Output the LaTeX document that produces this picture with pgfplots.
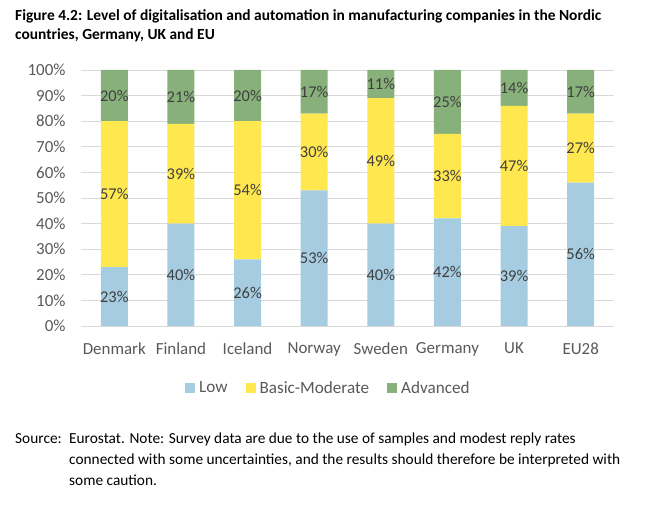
\documentclass[border=0pt]{standalone}
\usepackage{pgfplots}
\pgfplotsset{compat=1.18}
\usepackage{pgfplotstable}
\usepackage{fontspec}
\setmainfont{Carlito}
\definecolor{cLow}{HTML}{A6CCE2}
\definecolor{cBas}{HTML}{FFE74F}
\definecolor{cAdv}{HTML}{88B07A}
\definecolor{txt}{HTML}{404040}
\definecolor{tickc}{HTML}{595959}
\definecolor{gridc}{HTML}{D9D9D9}

\pgfplotstableread{
x low basic adv
0 23 57 20
1 40 39 21
2 26 54 20
3 53 30 17
4 40 49 11
5 42 33 25
6 39 47 14
7 56 27 17
}\data

\begin{document}
\begin{tikzpicture}
\useasboundingbox (0,0) rectangle (666bp,508bp);
\pgfplotsset{base/.style={
  at={(81bp,182bp)}, anchor=south west, scale only axis,
  width=533bp, height=256bp,
  xmin=-0.5, xmax=7.5, ymin=0, ymax=100, clip=false,
}}
\begin{axis}[base, ybar stacked, bar width=27bp,
  axis line style={draw=none},
  ymajorgrids, grid style={gridc, line width=0.8bp},
  ytick={0,10,...,100},
  yticklabel={\pgfmathprintnumber{\tick}\%},
  xtick={0,...,7},
  xticklabels={Denmark,Finland,Iceland,Norway,Sweden,Germany,UK,EU28},
  major tick length=0pt,
  /pgf/number format/assume math mode=true,
  tick label style={font=\fontsize{17}{20}\selectfont, text=tickc},
  yticklabel style={xshift=-12bp},
  xticklabel style={yshift=-13bp},
  legend columns=3,
  legend style={at={(0.466,-0.242)}, anchor=center, draw=none,
    font=\fontsize{17.2}{20}\selectfont, text=tickc,
    nodes={inner xsep=4bp},
    /tikz/every even column/.append style={column sep=14bp}},
]
\addplot[fill=cLow, draw=none, legend image code/.code={\fill[cLow] (0bp,-5bp) rectangle (10bp,5bp);}] table[x=x, y=low]{\data};
\addplot[fill=cBas, draw=none, legend image code/.code={\fill[cBas] (0bp,-5bp) rectangle (10bp,5bp);}] table[x=x, y=basic]{\data};
\addplot[fill=cAdv, draw=none, legend image code/.code={\fill[cAdv] (0bp,-5bp) rectangle (10bp,5bp);}] table[x=x, y=adv]{\data};
\legend{Low, Basic-Moderate, Advanced}
\end{axis}
\begin{axis}[base, hide axis,
  point meta=explicit,
  nodes near coords={\pgfmathprintnumber{\pgfplotspointmeta}\%},
  every node near coord/.style={font=\fontsize{16.5}{19}\selectfont, text=txt, anchor=center},
  /pgf/number format/assume math mode=true,
]
\addplot[draw=none, mark=none] table[x=x, y expr=\thisrow{low}/2, meta=low]{\data};
\addplot[draw=none, mark=none] table[x=x, y expr=\thisrow{low}+\thisrow{basic}/2, meta=basic]{\data};
\addplot[draw=none, mark=none] table[x=x, y expr=\thisrow{low}+\thisrow{basic}+\thisrow{adv}/2, meta=adv]{\data};
\end{axis}
\begin{scope}[every node/.style={anchor=base west, inner sep=0pt}]
\node[font=\bfseries\fontsize{15.5}{18}\selectfont] at (15bp,487.3bp)
  {Figure 4.2: Level of digitalisation and automation in manufacturing companies in the Nordic};
\node[font=\bfseries\fontsize{15.5}{18}\selectfont] at (15bp,468.7bp)
  {countries, Germany, UK and EU};
\node[font=\fontsize{15.4}{18}\selectfont] at (15bp,64.7bp) {Source:};
\node[font=\fontsize{15.4}{18}\selectfont] at (69bp,64.7bp)
  {Eurostat. Note: Survey data are due to the use of samples and modest reply rates};
\node[font=\fontsize{15.4}{18}\selectfont] at (69bp,43.7bp)
  {connected with some uncertainties, and the results should therefore be interpreted with};
\node[font=\fontsize{15.4}{18}\selectfont] at (69bp,23bp)
  {some caution.};
\end{scope}
\end{tikzpicture}
\end{document}
